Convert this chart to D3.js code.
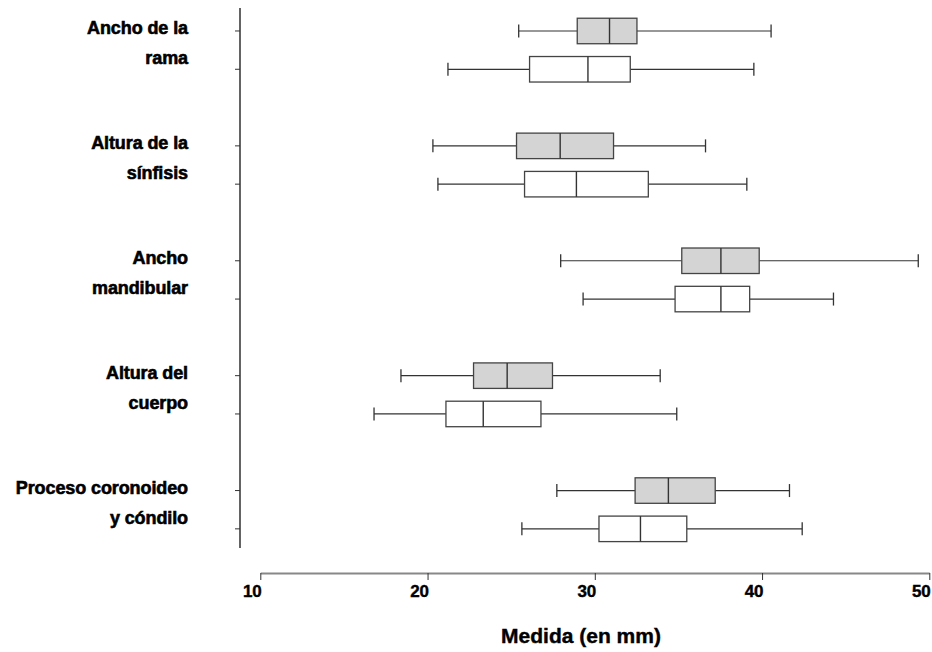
<!DOCTYPE html>
<html>
<head>
<meta charset="utf-8">
<script src="https://cdn.jsdelivr.net/npm/d3@7"></script>
<style>
  body { margin: 0; background: #fff; }
  text { font-family: "Liberation Sans", Arial, sans-serif; font-weight: bold; fill: #000; }
</style>
</head>
<body>
<svg id="chart" width="932" height="652"></svg>
<script>
// categorías (dos líneas de texto cada una)
const categories = [
  ["Ancho de la", "rama"],
  ["Altura de la", "sínfisis"],
  ["Ancho", "mandibular"],
  ["Altura del", "cuerpo"],
  ["Proceso coronoideo", "y cóndilo"]
];

// [mín, Q1, mediana, Q3, máx] — caja gris (fila superior)
const grayStats = [
  [25.45, 28.95, 30.88, 32.52, 40.54],
  [20.32, 25.32, 27.93, 31.12, 36.62],
  [27.96, 35.2, 37.54, 39.83, 49.34],
  [18.41, 22.75, 24.76, 27.47, 33.91],
  [27.73, 32.41, 34.4, 37.2, 41.64]
];

// [mín, Q1, mediana, Q3, máx] — caja blanca (fila inferior)
const whiteStats = [
  [21.22, 26.1, 29.59, 32.12, 39.51],
  [20.62, 25.8, 28.9, 33.2, 39.09],
  [29.3, 34.8, 37.54, 39.26, 44.27],
  [16.8, 21.1, 23.33, 26.78, 34.9],
  [25.64, 30.25, 32.73, 35.5, 42.4]
];

const xTicks = [10, 20, 30, 40, 50];
const xTitle = "Medida (en mm)";

const svg = d3.select("#chart");

const x = d3.scaleLinear().domain([10, 50]).range([260.3, 929.3]);
// filas: grupo*3 + (0 gris, 1 blanco)
const y = d3.scaleLinear().domain([-0.6, 13.5]).range([8, 548]);

const rows = [];
categories.forEach((c, i) => {
  rows.push({ stats: grayStats[i], idx: i * 3, fill: "#d4d4d4" });
  rows.push({ stats: whiteStats[i], idx: i * 3 + 1, fill: "#ffffff" });
});

// eje Y
svg.append("line")
  .attr("x1", 240).attr("x2", 240)
  .attr("y1", y(-0.6)).attr("y2", y(13.5))
  .attr("stroke", "#222").attr("stroke-width", 1.4);

svg.selectAll(".ytick")
  .data(rows)
  .join("line")
  .attr("class", "ytick")
  .attr("x1", 235).attr("x2", 240)
  .attr("y1", (d) => y(d.idx)).attr("y2", (d) => y(d.idx))
  .attr("stroke", "#333").attr("stroke-width", 1);

// etiquetas de categorías
categories.forEach((lines, i) => {
  const t = svg.append("text")
    .attr("text-anchor", "end")
    .attr("font-size", "18px")
    .attr("letter-spacing", "-0.1px")
    .attr("stroke", "#000")
    .attr("stroke-width", 0.6);
  lines.forEach((ln, j) => {
    t.append("tspan")
      .attr("x", 188)
      .attr("y", y(i * 3) + 3 + j * 30)
      .text(ln);
  });
});

// cajas
const boxH = 25.5;
const capH = 13;
const g = svg.selectAll(".box")
  .data(rows)
  .join("g")
  .attr("class", "box")
  .attr("transform", (d) => `translate(0,${y(d.idx)})`);

g.append("line") // bigote inferior
  .attr("x1", (d) => x(d.stats[0])).attr("x2", (d) => x(d.stats[1]))
  .attr("stroke", "#333").attr("stroke-width", 1.2);

g.append("line") // bigote superior
  .attr("x1", (d) => x(d.stats[3])).attr("x2", (d) => x(d.stats[4]))
  .attr("stroke", "#333").attr("stroke-width", 1.2);

g.append("line") // tope mín
  .attr("x1", (d) => x(d.stats[0])).attr("x2", (d) => x(d.stats[0]))
  .attr("y1", -capH / 2).attr("y2", capH / 2)
  .attr("stroke", "#333").attr("stroke-width", 1.3);

g.append("line") // tope máx
  .attr("x1", (d) => x(d.stats[4])).attr("x2", (d) => x(d.stats[4]))
  .attr("y1", -capH / 2).attr("y2", capH / 2)
  .attr("stroke", "#333").attr("stroke-width", 1.3);

g.append("rect")
  .attr("x", (d) => x(d.stats[1]))
  .attr("y", -boxH / 2)
  .attr("width", (d) => x(d.stats[3]) - x(d.stats[1]))
  .attr("height", boxH)
  .attr("fill", (d) => d.fill)
  .attr("stroke", "#444").attr("stroke-width", 1.3);

g.append("line") // mediana
  .attr("x1", (d) => x(d.stats[2])).attr("x2", (d) => x(d.stats[2]))
  .attr("y1", -boxH / 2).attr("y2", boxH / 2)
  .attr("stroke", "#333").attr("stroke-width", 1.4);

// eje X
const xAxis = svg.append("g")
  .attr("transform", "translate(0,573)")
  .call(d3.axisBottom(x).tickValues(xTicks).tickSize(7).tickSizeOuter(0).tickFormat(d3.format("d")));

xAxis.select(".domain").attr("stroke", "#888").attr("stroke-width", 2);
xAxis.selectAll(".tick line").attr("stroke", "#333");
xAxis.selectAll(".tick text")
  .attr("font-size", "17px")
  .attr("font-family", "Liberation Sans, Arial, sans-serif")
  .attr("font-weight", "bold")
  .attr("fill", "#000")
  .attr("stroke", "#000")
  .attr("stroke-width", 0.4)
  .attr("text-anchor", "end")
  .attr("x", 1)
  .attr("y", 12);

svg.append("text")
  .attr("x", 581)
  .attr("y", 643)
  .attr("text-anchor", "middle")
  .attr("font-size", "21px")
  .attr("stroke", "#000")
  .attr("stroke-width", 0.4)
  .text(xTitle);
</script>
</body>
</html>
